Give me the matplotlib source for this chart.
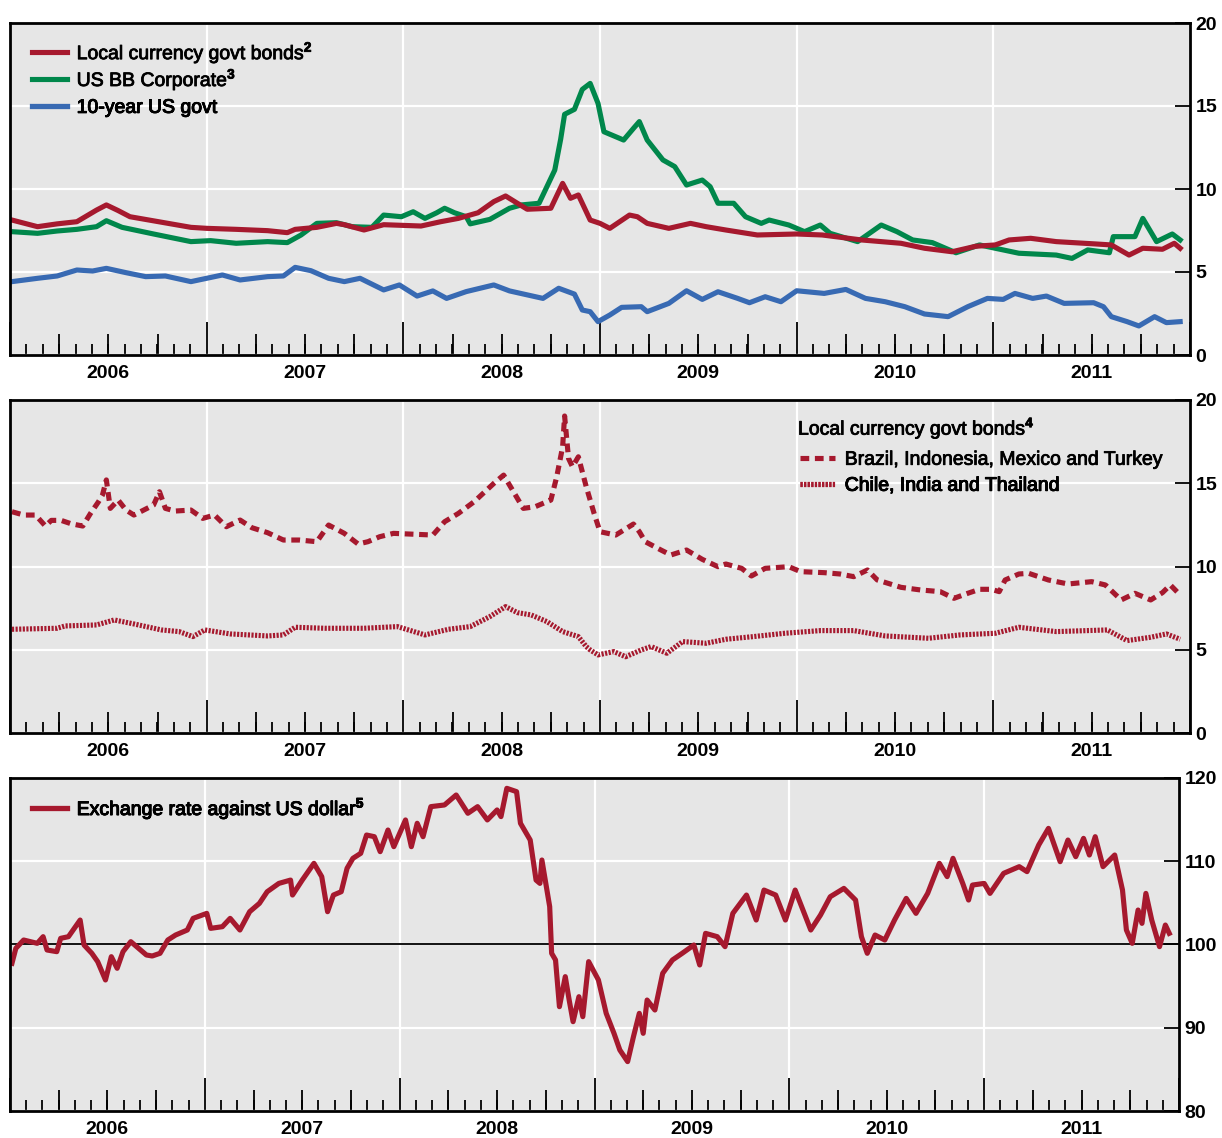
import matplotlib
matplotlib.use("Agg")
import matplotlib.pyplot as plt
import matplotlib.transforms as mtrans
import matplotlib.patheffects as pe
import numpy as np

plt.rcParams['font.family'] = ['Liberation Sans', 'DejaVu Sans']
plt.rcParams['mathtext.fontset'] = 'custom'
plt.rcParams['mathtext.rm'] = 'Liberation Sans'
plt.rcParams['mathtext.bf'] = 'Liberation Sans:bold'

RED = '#a6192e'
GREEN = '#00874b'
BLUE = '#386ab3'
BG = '#e6e6e6'

# ---- panel 1: yields (decimal years, per cent) ----
lc_t = [2006.01, 2006.14, 2006.24, 2006.34, 2006.44, 2006.49, 2006.55, 2006.61, 2006.92, 2007.00,
        2007.15, 2007.31, 2007.41, 2007.45, 2007.56, 2007.66, 2007.70, 2007.80, 2007.90, 2008.09,
        2008.19, 2008.28, 2008.38, 2008.46, 2008.52, 2008.58, 2008.63, 2008.75, 2008.81, 2008.85,
        2008.89, 2008.95, 2009.00, 2009.05, 2009.15, 2009.19, 2009.24, 2009.35, 2009.46, 2009.54,
        2009.64, 2009.80, 2010.00, 2010.13, 2010.33, 2010.53, 2010.65, 2010.79, 2010.91, 2011.01,
        2011.08, 2011.19, 2011.32, 2011.52, 2011.60, 2011.69, 2011.76, 2011.86, 2011.92, 2011.95]
lc_v = [8.13, 7.73, 7.90, 8.03, 8.73, 9.04, 8.70, 8.33, 7.69, 7.63,
        7.57, 7.49, 7.37, 7.57, 7.69, 7.93, 7.85, 7.53, 7.85, 7.77,
        8.03, 8.23, 8.57, 9.24, 9.58, 9.14, 8.78, 8.84, 10.34, 9.44,
        9.64, 8.13, 7.93, 7.63, 8.43, 8.33, 7.93, 7.63, 7.93, 7.73,
        7.53, 7.23, 7.29, 7.23, 6.93, 6.73, 6.43, 6.22, 6.55, 6.63,
        6.93, 7.03, 6.83, 6.69, 6.63, 6.02, 6.43, 6.37, 6.73, 6.43]

bb_t = [2006.01, 2006.14, 2006.24, 2006.34, 2006.44, 2006.49, 2006.57, 2006.73, 2006.92, 2007.02,
        2007.15, 2007.31, 2007.41, 2007.48, 2007.56, 2007.66, 2007.74, 2007.84, 2007.90, 2007.99,
        2008.05, 2008.11, 2008.17, 2008.21, 2008.26, 2008.32, 2008.34, 2008.44, 2008.54, 2008.60,
        2008.69, 2008.73, 2008.77, 2008.80, 2008.82, 2008.87, 2008.91, 2008.95, 2008.99, 2009.02,
        2009.07, 2009.12, 2009.17, 2009.20, 2009.24, 2009.32, 2009.38, 2009.44, 2009.52, 2009.56,
        2009.60, 2009.68, 2009.74, 2009.82, 2009.86, 2009.96, 2010.04, 2010.12, 2010.17, 2010.31,
        2010.37, 2010.43, 2010.51, 2010.59, 2010.69, 2010.81, 2010.93, 2011.01, 2011.13, 2011.32,
        2011.40, 2011.48, 2011.59, 2011.61, 2011.72, 2011.76, 2011.83, 2011.91, 2011.95]
bb_v = [7.43, 7.33, 7.47, 7.57, 7.73, 8.09, 7.69, 7.29, 6.83, 6.89,
        6.73, 6.83, 6.77, 7.23, 7.93, 7.97, 7.73, 7.69, 8.43, 8.33,
        8.63, 8.23, 8.57, 8.84, 8.57, 8.33, 7.90, 8.17, 8.84, 9.04,
        9.14, 10.14, 11.14, 13.00, 14.50, 14.80, 16.00, 16.36, 15.16, 13.45,
        13.20, 12.95, 13.65, 14.06, 12.95, 11.75, 11.35, 10.24, 10.54, 10.14,
        9.14, 9.14, 8.33, 7.93, 8.13, 7.83, 7.43, 7.83, 7.33, 6.83,
        7.33, 7.83, 7.43, 6.93, 6.77, 6.16, 6.63, 6.43, 6.13, 6.02,
        5.82, 6.33, 6.16, 7.13, 7.13, 8.23, 6.83, 7.29, 6.93]

us_t = [2006.01, 2006.14, 2006.24, 2006.34, 2006.42, 2006.49, 2006.59, 2006.69, 2006.79, 2006.92,
        2007.08, 2007.17, 2007.31, 2007.39, 2007.45, 2007.53, 2007.62, 2007.70, 2007.78, 2007.90,
        2007.98, 2008.07, 2008.15, 2008.22, 2008.32, 2008.46, 2008.54, 2008.71, 2008.79, 2008.87,
        2008.91, 2008.95, 2008.99, 2009.05, 2009.11, 2009.21, 2009.24, 2009.35, 2009.44, 2009.52,
        2009.60, 2009.70, 2009.76, 2009.84, 2009.92, 2010.00, 2010.14, 2010.25, 2010.35, 2010.45,
        2010.55, 2010.65, 2010.77, 2010.87, 2010.97, 2011.05, 2011.11, 2011.20, 2011.27, 2011.36,
        2011.51, 2011.56, 2011.60, 2011.68, 2011.74, 2011.82, 2011.88, 2011.95]
us_v = [4.42, 4.62, 4.76, 5.12, 5.06, 5.22, 4.96, 4.72, 4.76, 4.42,
        4.82, 4.52, 4.72, 4.76, 5.28, 5.08, 4.62, 4.42, 4.62, 3.92,
        4.22, 3.55, 3.86, 3.41, 3.82, 4.22, 3.86, 3.41, 4.02, 3.67,
        2.71, 2.61, 2.01, 2.41, 2.87, 2.91, 2.61, 3.11, 3.87, 3.35,
        3.81, 3.41, 3.15, 3.51, 3.21, 3.87, 3.71, 3.95, 3.41, 3.21,
        2.91, 2.47, 2.31, 2.91, 3.41, 3.35, 3.71, 3.41, 3.55, 3.11,
        3.15, 2.91, 2.31, 2.01, 1.75, 2.31, 1.95, 2.01]

# ---- panel 2: local currency govt bond yields by group ----
bimt_t = [2006.01, 2006.07, 2006.13, 2006.18, 2006.21, 2006.26, 2006.31, 2006.37, 2006.41, 2006.45,
          2006.47, 2006.49, 2006.51, 2006.55, 2006.59, 2006.63, 2006.68, 2006.73, 2006.76, 2006.79,
          2006.84, 2006.92, 2006.98, 2007.04, 2007.10, 2007.17, 2007.23, 2007.31, 2007.39, 2007.47,
          2007.56, 2007.62, 2007.70, 2007.77, 2007.82, 2007.88, 2007.95, 2008.03, 2008.15, 2008.21,
          2008.28, 2008.36, 2008.46, 2008.51, 2008.56, 2008.61, 2008.67, 2008.75, 2008.78, 2008.81,
          2008.82, 2008.84, 2008.86, 2008.89, 2008.93, 2008.97, 2009.00, 2009.08, 2009.17, 2009.20,
          2009.23, 2009.31, 2009.36, 2009.44, 2009.52, 2009.60, 2009.64, 2009.72, 2009.77, 2009.84,
          2009.96, 2010.02, 2010.14, 2010.22, 2010.29, 2010.36, 2010.41, 2010.53, 2010.63, 2010.73,
          2010.80, 2010.87, 2010.93, 2010.99, 2011.03, 2011.06, 2011.13, 2011.18, 2011.28, 2011.38,
          2011.50, 2011.57, 2011.65, 2011.72, 2011.80, 2011.86, 2011.90, 2011.95]
bimt_v = [13.29, 13.09, 13.09, 12.43, 12.77, 12.77, 12.57, 12.43, 13.20, 13.89,
          14.29, 15.20, 13.49, 13.99, 13.39, 13.09, 13.39, 13.69, 14.49, 13.49,
          13.33, 13.39, 12.89, 13.09, 12.39, 12.79, 12.33, 12.03, 11.59, 11.59,
          11.49, 12.49, 11.99, 11.35, 11.49, 11.79, 11.99, 11.95, 11.89, 12.69,
          13.19, 13.89, 14.99, 15.49, 14.49, 13.49, 13.59, 13.99, 15.39, 17.19,
          19.04, 16.49, 15.99, 16.59, 14.79, 13.19, 12.09, 11.89, 12.55, 12.09,
          11.49, 10.99, 10.69, 10.99, 10.43, 9.99, 10.15, 9.89, 9.43, 9.89,
          9.99, 9.69, 9.63, 9.55, 9.39, 9.79, 9.19, 8.75, 8.59, 8.49,
          8.09, 8.39, 8.63, 8.63, 8.49, 9.19, 9.55, 9.59, 9.19, 8.95,
          9.09, 8.89, 7.99, 8.39, 7.99, 8.43, 8.89, 8.29]

cit_t = [2006.01, 2006.24, 2006.28, 2006.44, 2006.53, 2006.63, 2006.77, 2006.86, 2006.93, 2006.99,
         2007.12, 2007.31, 2007.39, 2007.45, 2007.60, 2007.80, 2007.97, 2008.11, 2008.23, 2008.34,
         2008.44, 2008.52, 2008.58, 2008.65, 2008.73, 2008.81, 2008.89, 2008.93, 2008.95, 2008.99,
         2009.07, 2009.13, 2009.21, 2009.26, 2009.34, 2009.42, 2009.54, 2009.64, 2009.78, 2009.94,
         2010.12, 2010.29, 2010.45, 2010.67, 2010.83, 2011.01, 2011.13, 2011.32, 2011.58, 2011.68,
         2011.80, 2011.88, 2011.95]
cit_v = [6.23, 6.29, 6.43, 6.49, 6.79, 6.55, 6.19, 6.09, 5.79, 6.19,
         5.95, 5.83, 5.89, 6.35, 6.29, 6.29, 6.39, 5.89, 6.23, 6.39,
         6.99, 7.59, 7.23, 7.09, 6.69, 6.09, 5.79, 5.19, 4.99, 4.69,
         4.89, 4.58, 4.99, 5.19, 4.79, 5.49, 5.39, 5.63, 5.79, 5.99,
         6.15, 6.15, 5.83, 5.69, 5.89, 5.99, 6.35, 6.09, 6.19, 5.55,
         5.75, 5.95, 5.63]

# ---- panel 3: exchange rate against US dollar ----
fx_t = [2006.01, 2006.03, 2006.07, 2006.14, 2006.17, 2006.19, 2006.24, 2006.26, 2006.30, 2006.33,
        2006.36, 2006.38, 2006.42, 2006.45, 2006.49, 2006.52, 2006.55, 2006.58, 2006.62, 2006.66,
        2006.70, 2006.73, 2006.77, 2006.81, 2006.85, 2006.91, 2006.94, 2007.01, 2007.03, 2007.09,
        2007.13, 2007.18, 2007.23, 2007.28, 2007.32, 2007.38, 2007.44, 2007.45, 2007.50, 2007.56,
        2007.60, 2007.63, 2007.66, 2007.70, 2007.73, 2007.76, 2007.80, 2007.83, 2007.87, 2007.90,
        2007.94, 2007.97, 2008.03, 2008.06, 2008.09, 2008.12, 2008.16, 2008.23, 2008.29, 2008.35,
        2008.40, 2008.45, 2008.50, 2008.52, 2008.55, 2008.60, 2008.62, 2008.65, 2008.67, 2008.70,
        2008.72, 2008.73, 2008.75, 2008.77, 2008.78, 2008.80, 2008.82, 2008.85, 2008.87, 2008.89,
        2008.92, 2008.94, 2008.97, 2009.02, 2009.06, 2009.10, 2009.13, 2009.17, 2009.20, 2009.23,
        2009.25, 2009.27, 2009.31, 2009.35, 2009.40, 2009.45, 2009.51, 2009.54, 2009.57, 2009.63,
        2009.67, 2009.71, 2009.78, 2009.83, 2009.87, 2009.93, 2009.98, 2010.03, 2010.11, 2010.16,
        2010.21, 2010.28, 2010.34, 2010.37, 2010.40, 2010.44, 2010.49, 2010.54, 2010.60, 2010.65,
        2010.71, 2010.77, 2010.81, 2010.84, 2010.89, 2010.92, 2010.94, 2011.00, 2011.03, 2011.10,
        2011.18, 2011.22, 2011.28, 2011.33, 2011.39, 2011.43, 2011.47, 2011.51, 2011.54, 2011.57,
        2011.61, 2011.67, 2011.71, 2011.73, 2011.76, 2011.79, 2011.81, 2011.83, 2011.86, 2011.90,
        2011.93, 2011.95]
fx_v = [97.74, 99.54, 100.54, 100.14, 100.94, 99.34, 99.14, 100.74, 100.94, 101.94,
        102.94, 99.94, 98.94, 97.94, 95.74, 98.54, 97.14, 99.14, 100.34, 99.54,
        98.74, 98.62, 98.94, 100.54, 101.14, 101.74, 103.14, 103.74, 101.94, 102.14,
        103.14, 101.74, 103.94, 104.94, 106.34, 107.34, 107.74, 105.94, 107.74, 109.75,
        108.15, 103.94, 105.94, 106.34, 109.15, 110.35, 110.95, 113.15, 112.95, 111.15,
        113.75, 111.75, 114.96, 111.75, 114.56, 112.95, 116.56, 116.76, 117.96, 115.76,
        116.56, 114.96, 116.16, 115.36, 118.76, 118.36, 114.56, 113.35, 112.55, 107.74,
        107.34, 110.15, 107.34, 104.55, 98.94, 98.14, 92.53, 96.14, 93.33, 90.73,
        93.73, 91.33, 97.94, 95.74, 91.73, 89.33, 87.33, 85.93, 88.93, 91.73,
        89.33, 93.33, 92.13, 96.54, 98.14, 98.94, 99.94, 97.54, 101.34, 100.94,
        99.74, 103.74, 105.94, 102.94, 106.54, 105.94, 102.94, 106.54, 101.74, 103.54,
        105.74, 106.74, 105.34, 100.94, 98.94, 101.14, 100.54, 102.94, 105.54, 103.74,
        106.14, 109.75, 108.15, 110.35, 107.34, 105.34, 107.14, 107.34, 106.14, 108.55,
        109.35, 108.75, 111.95, 113.95, 109.95, 112.55, 110.55, 112.75, 110.75, 112.95,
        109.35, 110.75, 106.54, 101.74, 100.14, 104.14, 102.54, 106.14, 102.94, 99.74,
        102.34, 101.34]

years = [2006, 2007, 2008, 2009, 2010, 2011]

W, H = 1222, 1138
fig = plt.figure(figsize=(W / 100, H / 100), dpi=100)
heavy = [pe.withStroke(linewidth=0.6, foreground='black')]


def make_axes(left, top, right, bottom):
    ax = fig.add_axes([left / W, 1 - bottom / H, (right - left) / W, (bottom - top) / H])
    ax.set_facecolor(BG)
    ax.set_axisbelow(True)
    for s in ax.spines.values():
        s.set_linewidth(2.0)
        s.set_color('black')
    ax.set_xlim(2006, 2012)
    ax.set_xticks(np.arange(2006, 2013))
    ax.set_xticks(np.arange(2006, 2012.01, 1 / 12), minor=True)
    ax.tick_params(axis='x', which='major', direction='in', length=24, width=1.3,
                   labelbottom=False)
    ax.tick_params(axis='x', which='minor', direction='in', length=8, width=1.3)
    sec = ax.secondary_xaxis('bottom')
    sec.set_xticks(np.arange(2006.25, 2012, 0.25))
    sec.tick_params(direction='in', length=15, width=1.3, labelbottom=False)
    sec.spines['bottom'].set_visible(False)
    ax.yaxis.tick_right()
    ax.tick_params(axis='y', which='major', direction='in', length=11, width=1.3,
                   labelsize=14, pad=4)
    ax.grid(True, which='major', color='white', linewidth=1.6)
    trans = mtrans.blended_transform_factory(ax.transData, ax.transAxes)
    for y in years:
        ax.text(y + 0.5, -0.055, str(y), transform=trans, ha='center', va='center',
                fontsize=14, fontweight='bold')
    return ax


def legend_row(ax, line, label, x, y):
    leg = ax.legend([line], [label], loc='center left', bbox_to_anchor=(x, y),
                    frameon=False, fontsize=14, borderpad=0, borderaxespad=0,
                    handlelength=1.8, handletextpad=0.5)
    for t in leg.get_texts():
        t.set_path_effects(heavy)
    ax.add_artist(leg)


LW = 3.7

# panel 1
ax1 = make_axes(10, 23, 1190, 355)
ax1.set_ylim(0, 20)
ax1.set_yticks([0, 5, 10, 15, 20])
ax1.set_yticklabels(['0', '5', '10', '15', '20'], fontweight='bold')
l_bb, = ax1.plot(bb_t, bb_v, color=GREEN, lw=LW)
l_lc, = ax1.plot(lc_t, lc_v, color=RED, lw=LW)
l_us, = ax1.plot(us_t, us_v, color=BLUE, lw=LW)
legend_row(ax1, l_lc, r'Local currency govt bonds$^{\mathbf{2}}$', 0.0186, 0.910)
legend_row(ax1, l_bb, r'US BB Corporate$^{\mathbf{3}}$', 0.0186, 0.829)
legend_row(ax1, l_us, '10-year US govt', 0.0186, 0.744)

# panel 2
ax2 = make_axes(10, 400, 1190, 733)
ax2.set_ylim(0, 20)
ax2.set_yticks([0, 5, 10, 15, 20])
ax2.set_yticklabels(['0', '5', '10', '15', '20'], fontweight='bold')
l_bimt, = ax2.plot(bimt_t, bimt_v, color=RED, lw=LW, dashes=(1.7, 1.1))
l_cit, = ax2.plot(cit_t, cit_v, color=RED, lw=LW, dashes=(0.42, 0.28), dash_capstyle='butt')
ax2.text(0.6678, 0.915, r'Local currency govt bonds$^{\mathbf{4}}$', transform=ax2.transAxes,
         ha='left', va='center', fontsize=14, path_effects=heavy)
legend_row(ax2, l_bimt, 'Brazil, Indonesia, Mexico and Turkey', 0.6695, 0.820)
legend_row(ax2, l_cit, 'Chile, India and Thailand', 0.6695, 0.742)

# panel 3
ax3 = make_axes(10, 778, 1179, 1111)
ax3.set_ylim(80, 120)
ax3.set_yticks([80, 90, 100, 110, 120])
ax3.set_yticklabels(['80', '90', '100', '110', '120'], fontweight='bold')
ax3.axhline(100, color='black', lw=1.3, zorder=1.5)
l_fx, = ax3.plot(fx_t, fx_v, color=RED, lw=LW)
legend_row(ax3, l_fx, r'Exchange rate against US dollar$^{\mathbf{5}}$', 0.0188, 0.908)

fig.savefig('out.png', dpi=100, facecolor='white')
